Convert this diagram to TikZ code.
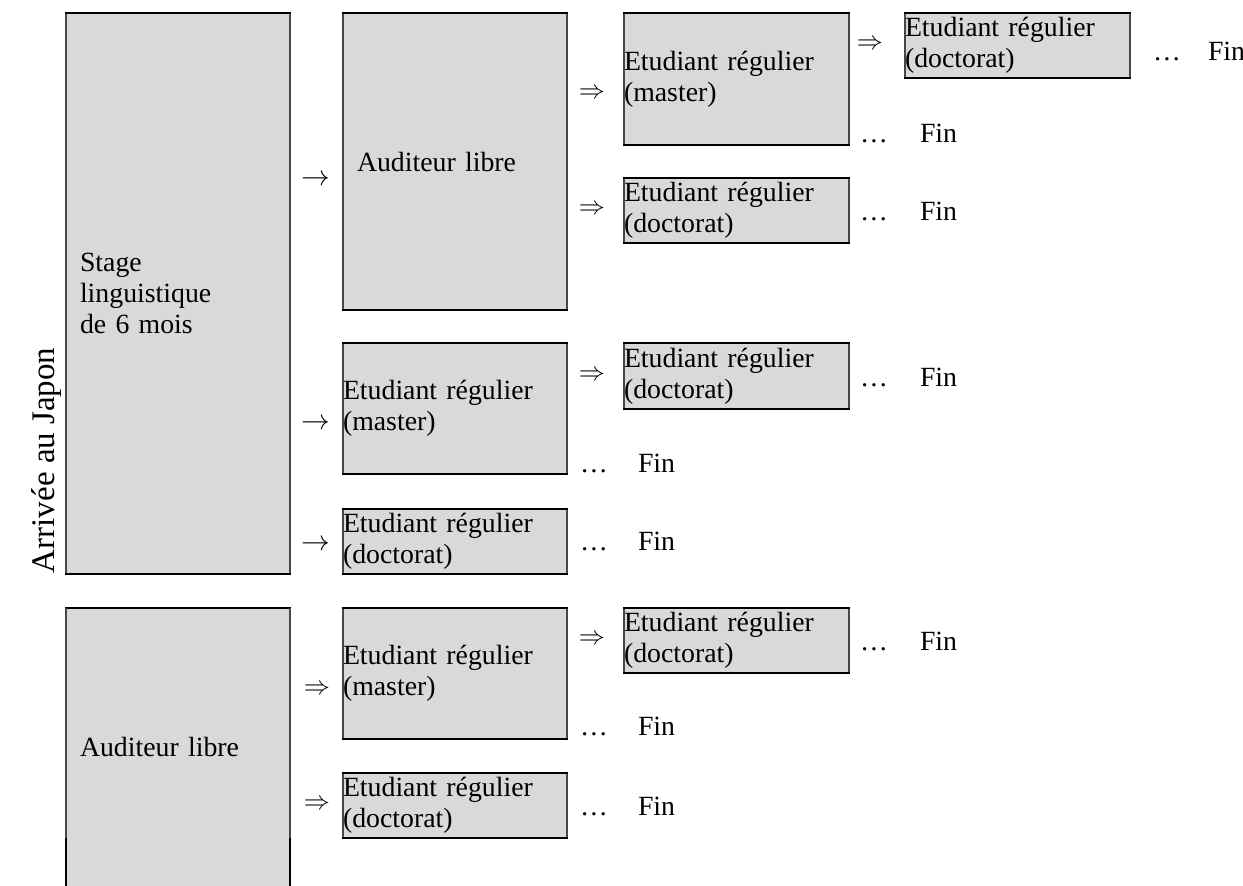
\documentclass[tikz,border=0pt]{standalone}
\usepackage{fontspec}
\setmainfont{Liberation Serif}
\definecolor{cellgray}{HTML}{D9D9D9}
\newcommand\cellborders[1]{%
  \draw[vline] (#1.north west) -- (#1.south west) (#1.north east) -- (#1.south east);
  \draw[hline] (#1.north west) -- (#1.north east) (#1.south west) -- (#1.south east);
}
\begin{document}
\begin{tikzpicture}[x=1pt,y=-1pt,
  every node/.style={font=\fontsize{27.8}{31}\selectfont, inner sep=0pt, outer sep=0pt},
  cell/.style={fill=cellgray, anchor=north west, align=left},
  bigcell/.style={cell, inner xsep=14pt, text width=196pt, minimum width=224pt},
  smallcell/.style={cell, inner xsep=0pt, text width=225pt, minimum width=225pt},
  smallcelltwo/.style={cell, inner xsep=0pt, text width=224pt, minimum width=224pt},
  hline/.style={black, line width=2pt, line cap=rect},
  vline/.style={black!72, line width=1.1pt},
  arr/.style={anchor=center, font=\fontsize{24.88}{26}\selectfont, scale=1.15},
  darr/.style={anchor=center, font=\fontsize{24.88}{26}\selectfont, scale=1.05},
  dots/.style={anchor=base},
  fin/.style={anchor=base west},
]
\useasboundingbox (0,0) rectangle (1243,886);

% column 1
\node[bigcell, minimum height=561pt] (stage) at (66,13) {Stage\\linguistique\\de 6 mois};
\node[bigcell, minimum height=278pt] (aud2) at (66,608) {Auditeur libre};

% column 2
\node[bigcell, minimum height=297pt] (aud1) at (343,13) {Auditeur libre};
\node[smallcelltwo, minimum height=131pt] (m2) at (343,343) {Etudiant régulier\\(master)};
\node[smallcelltwo, minimum height=65pt] (d4) at (343,509) {Etudiant régulier\\(doctorat)};
\node[smallcelltwo, minimum height=131pt] (m3) at (343,608) {Etudiant régulier\\(master)};
\node[smallcelltwo, minimum height=65pt] (d6) at (343,773) {Etudiant régulier\\(doctorat)};

% column 3
\node[smallcell, minimum height=132pt] (m1) at (624,13) {Etudiant régulier\\(master)};
\node[smallcell, minimum height=65pt] (d2) at (624,178) {Etudiant régulier\\(doctorat)};
\node[smallcell, minimum height=66pt] (d3) at (624,343) {Etudiant régulier\\(doctorat)};
\node[smallcell, minimum height=65pt] (d5) at (624,608) {Etudiant régulier\\(doctorat)};

% column 4
\node[smallcell, minimum height=65pt] (d1) at (905,13) {Etudiant régulier\\(doctorat)};

% borders
\cellborders{stage}
\cellborders{aud1}
\cellborders{m1}
\cellborders{d1}
\cellborders{d2}
\cellborders{m2}
\cellborders{d3}
\cellborders{d4}
\cellborders{m3}
\cellborders{d5}
\cellborders{d6}
\coordinate (aud2break) at (66,838);
\coordinate (aud2breakr) at (290,838);
\draw[hline] (aud2.north west) -- (aud2.north east);
\draw[vline] (aud2.north west) -- (aud2break) (aud2.north east) -- (aud2breakr);
\draw[black, line width=2pt] (aud2break) -- (aud2.south west) (aud2breakr) -- (aud2.south east);

% side title
\node[rotate=90, anchor=base west, font=\fontsize{33}{36}\selectfont] (title) at (54,573) {Arrivée au Japon};

% arrows
\node[arr] (s-aud1) at (316,180) {$\rightarrow$};
\node[arr] (s-m2) at (316,424) {$\rightarrow$};
\node[arr] (s-d4) at (316,545) {$\rightarrow$};
\node[darr] (a2-m3) at (317,690) {$\Rightarrow$};
\node[darr] (a2-d6) at (317,805) {$\Rightarrow$};
\node[darr] (a1-m1) at (592,94) {$\Rightarrow$};
\node[darr] (a1-d2) at (592,210) {$\Rightarrow$};
\node[darr] (m2-d3) at (592,376) {$\Rightarrow$};
\node[darr] (m3-d5) at (592,640) {$\Rightarrow$};
\node[darr] (m1-d1) at (870,45) {$\Rightarrow$};

% ends
\node[dots] (e1d) at (1167,60) {…};   \node[fin] (e1) at (1208,60) {Fin};
\node[dots] (e2d) at (874,142) {…};   \node[fin] (e2) at (920,142) {Fin};
\node[dots] (e3d) at (874,220) {…};   \node[fin] (e3) at (920,220) {Fin};
\node[dots] (e4d) at (874,386) {…};   \node[fin] (e4) at (920,386) {Fin};
\node[dots] (e5d) at (594,472) {…};   \node[fin] (e5) at (638,472) {Fin};
\node[dots] (e6d) at (594,550) {…};   \node[fin] (e6) at (638,550) {Fin};
\node[dots] (e7d) at (874,650) {…};   \node[fin] (e7) at (920,650) {Fin};
\node[dots] (e8d) at (594,735) {…};   \node[fin] (e8) at (638,735) {Fin};
\node[dots] (e9d) at (594,815) {…};   \node[fin] (e9) at (638,815) {Fin};
\end{tikzpicture}
\end{document}
